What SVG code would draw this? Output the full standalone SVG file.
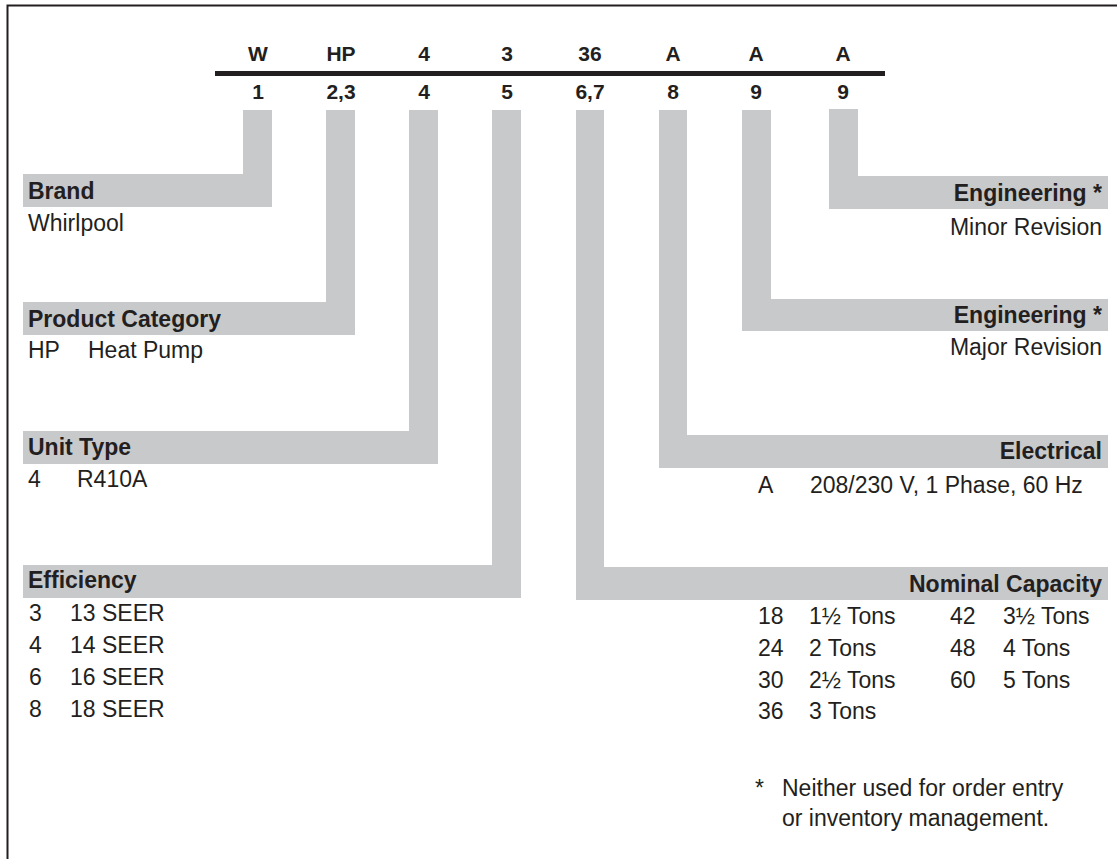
<svg xmlns="http://www.w3.org/2000/svg" width="1117" height="859" viewBox="0 0 1117 859">
<style>
text{font-family:"Liberation Sans",Arial,sans-serif;fill:#231f20}
.hd{font-size:21px;font-weight:bold;text-anchor:middle}
.lb{font-size:23px;font-weight:bold}
.r{text-anchor:end}
.tx{font-size:23px}
.bar{fill:#c8c9cb}
</style>
<rect width="1117" height="859" fill="#fff"/>
<g id="frame" fill="none" stroke="#231f20" stroke-width="2">
<path d="M7.5 859V5.5H1117"/>
</g>
<g id="header">
<rect x="215" y="71" width="670" height="5" fill="#231f20"/>
<text class="hd" x="258" y="61">W</text>
<text class="hd" x="341" y="61">HP</text>
<text class="hd" x="424" y="61">4</text>
<text class="hd" x="507" y="61">3</text>
<text class="hd" x="590" y="61">36</text>
<text class="hd" x="673" y="61">A</text>
<text class="hd" x="756" y="61">A</text>
<text class="hd" x="843" y="61">A</text>
<text class="hd" x="258" y="99">1</text>
<text class="hd" x="341" y="99">2,3</text>
<text class="hd" x="424" y="99">4</text>
<text class="hd" x="507" y="99">5</text>
<text class="hd" x="590" y="99">6,7</text>
<text class="hd" x="673" y="99">8</text>
<text class="hd" x="756" y="99">9</text>
<text class="hd" x="843" y="99">9</text>
</g>
<g id="connectors" class="bar">
<rect x="243" y="110" width="29" height="64"/>
<rect x="326" y="110" width="29" height="192"/>
<rect x="409" y="110" width="29" height="321"/>
<rect x="492" y="110" width="29" height="455"/>
<rect x="576" y="110" width="28" height="457"/>
<rect x="659" y="110" width="28" height="325"/>
<rect x="742" y="110" width="29" height="189"/>
<rect x="829" y="109" width="29" height="67"/>
</g>
<g id="brand">
<rect class="bar" x="23" y="174" width="249" height="33"/>
<text class="lb" x="28" y="199">Brand</text>
<text class="tx" x="28" y="231">Whirlpool</text>
</g>
<g id="product-category">
<rect class="bar" x="23" y="302" width="332" height="33"/>
<text class="lb" x="28" y="327">Product Category</text>
<text class="tx" y="358"><tspan x="28">HP</tspan><tspan x="88">Heat Pump</tspan></text>
</g>
<g id="unit-type">
<rect class="bar" x="23" y="431" width="415" height="33"/>
<text class="lb" x="28" y="455">Unit Type</text>
<text class="tx" y="487"><tspan x="28">4</tspan><tspan x="77">R410A</tspan></text>
</g>
<g id="efficiency">
<rect class="bar" x="23" y="565" width="498" height="33"/>
<text class="lb" x="28" y="588">Efficiency</text>
<text class="tx" y="621"><tspan x="29">3</tspan><tspan x="70">13 SEER</tspan></text>
<text class="tx" y="653"><tspan x="29">4</tspan><tspan x="70">14 SEER</tspan></text>
<text class="tx" y="685"><tspan x="29">6</tspan><tspan x="70">16 SEER</tspan></text>
<text class="tx" y="717"><tspan x="29">8</tspan><tspan x="70">18 SEER</tspan></text>
</g>
<g id="engineering-minor">
<rect class="bar" x="829" y="176" width="279" height="33"/>
<text class="lb r" x="1102" y="201">Engineering *</text>
<text class="tx r" x="1102" y="235">Minor Revision</text>
</g>
<g id="engineering-major">
<rect class="bar" x="742" y="299" width="366" height="32"/>
<text class="lb r" x="1102" y="323">Engineering *</text>
<text class="tx r" x="1102" y="355">Major Revision</text>
</g>
<g id="electrical">
<rect class="bar" x="659" y="435" width="449" height="33"/>
<text class="lb r" x="1102" y="459">Electrical</text>
<text class="tx" y="493"><tspan x="758">A</tspan><tspan x="810">208/230 V, 1 Phase, 60 Hz</tspan></text>
</g>
<g id="nominal-capacity">
<rect class="bar" x="576" y="567" width="532" height="33"/>
<text class="lb r" x="1102" y="592">Nominal Capacity</text>
<text class="tx" y="624"><tspan x="758">18</tspan><tspan x="809">1½ Tons</tspan><tspan x="950">42</tspan><tspan x="1003">3½ Tons</tspan></text>
<text class="tx" y="656"><tspan x="758">24</tspan><tspan x="809">2 Tons</tspan><tspan x="950">48</tspan><tspan x="1003">4 Tons</tspan></text>
<text class="tx" y="688"><tspan x="758">30</tspan><tspan x="809">2½ Tons</tspan><tspan x="950">60</tspan><tspan x="1003">5 Tons</tspan></text>
<text class="tx" y="719"><tspan x="758">36</tspan><tspan x="809">3 Tons</tspan></text>
</g>
<g id="footnote">
<text class="tx" y="796"><tspan x="755">*</tspan><tspan x="782">Neither used for order entry</tspan></text>
<text class="tx" x="782" y="826">or inventory management.</text>
</g>
</svg>
